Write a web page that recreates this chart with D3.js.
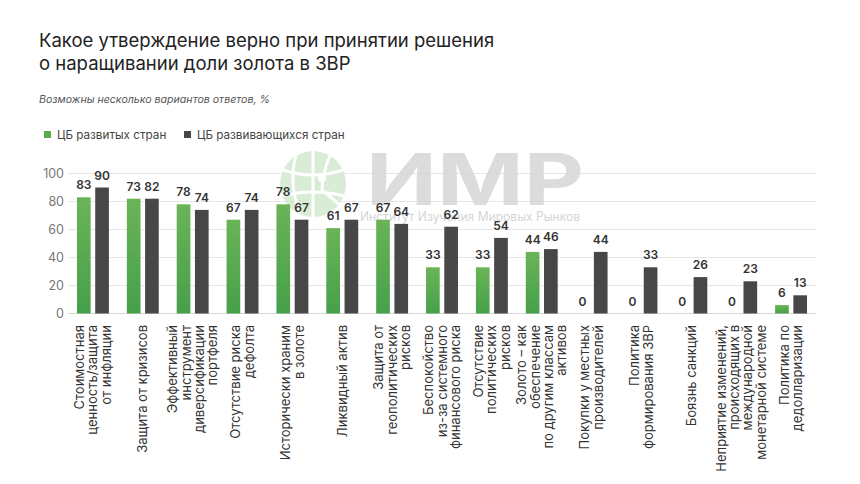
<!DOCTYPE html>
<html><head><meta charset="utf-8">
<script src="https://cdn.jsdelivr.net/npm/d3@7"></script>
<style>
body{margin:0;background:#fff;}
svg{display:block;font-family:Inter,"Noto Sans",sans-serif;}
</style></head>
<body><svg id="c" width="860" height="484"></svg>
<script>
// ---- data ----
const categories = [
  ["Стоимостная","ценность/защита","от инфляции"],
  ["Защита от кризисов"],
  ["Эффективный","инструмент","диверсификации","портфеля"],
  ["Отсутствие риска","дефолта"],
  ["Исторически храним","в золоте"],
  ["Ликвидный актив"],
  ["Защита от","геополитических","рисков"],
  ["Беспокойство","из-за системного","финансового риска"],
  ["Отсутствие","политических","рисков"],
  ["Золото – как","обеспечение","по другим классам","активов"],
  ["Покупки у местных","производителей"],
  ["Политика","формирования ЗВР"],
  ["Боязнь санкций"],
  ["Неприятие изменений,","происходящих в","международной","монетарной системе"],
  ["Политика по","дедолларизации"]
];
const seriesNames = ["ЦБ развитых стран","ЦБ развивающихся стран"];
// bar heights as drawn in the picture
const developed  = [83,82,78,67,78,61,67,33,33,44,0,0,0,0,6];
const developing = [90,82,74,74,67,67,64,62,54,46,44,33,26,23,13];
// value labels as printed in the picture
const developedLabels  = [83,73,78,67,78,61,67,33,33,44,0,0,0,0,6];
const developingLabels = [90,82,74,74,67,67,64,62,54,46,44,33,26,23,13];
const yTicks = [0,20,40,60,80,100];

const svg = d3.select("#c");
const colors = ["url(#gGreen)","#474747"];
const defs = svg.append("defs");
const gr = defs.append("linearGradient").attr("id","gGreen").attr("x1",0).attr("y1",0).attr("x2",0).attr("y2",1);
gr.append("stop").attr("offset","0%").attr("stop-color","#6ab457");
gr.append("stop").attr("offset","100%").attr("stop-color","#46a04a");

// title
svg.append("text").attr("x",39).attr("y",47).attr("font-size",18.5).attr("fill","#222")
  .text("Какое утверждение верно при принятии решения");
svg.append("text").attr("x",39).attr("y",69.5).attr("font-size",18.5).attr("fill","#222")
  .text("о наращивании доли золота в ЗВР");
svg.append("text").attr("x",39).attr("y",103).attr("font-size",10.6).attr("font-style","italic").attr("fill","#555")
  .text("Возможны несколько вариантов ответов, %");

// legend
const leg = [{x:44,t:seriesNames[0],c:"#5aaa50"},{x:184,t:seriesNames[1],c:"#474747"}];
leg.forEach(l=>{
  svg.append("rect").attr("x",l.x).attr("y",131).attr("width",7).attr("height",7).attr("fill",l.c);
  svg.append("text").attr("x",l.x+13).attr("y",138.5).attr("font-size",11.7).attr("fill","#444").text(l.t);
});

// scales
const x0 = d3.scaleBand().domain(d3.range(categories.length)).range([68,816]).paddingInner(0.36).paddingOuter(0.18);
const x1 = d3.scaleBand().domain([0,1]).range([0,x0.bandwidth()]).paddingInner(0.25);
const y = d3.scaleLinear().domain([0,100]).range([313.5,173.5]);

// grid
svg.append("g").selectAll("line").data(yTicks).join("line")
  .attr("x1",68).attr("x2",816).attr("y1",d=>y(d)).attr("y2",d=>y(d))
  .attr("stroke",d=>d===0?"#d6d6d6":"#e6e6e6").attr("stroke-width",1.2);
svg.append("g").selectAll("text").data(yTicks).join("text")
  .attr("x",64).attr("y",d=>y(d)+4.5).attr("text-anchor","end").attr("font-size",12.5)
  .attr("fill","#777").text(d=>d);

// watermark
const wm = svg.append("g").attr("opacity",0.85);
wm.append("circle").attr("cx",313).attr("cy",184).attr("r",33).attr("fill","#d3ead0");
wm.append("path").attr("d","M313,151 L313,217 M283,170 Q313,180 343,170 M282,196 Q313,188 344,196 M296,155 Q288,184 300,213 M330,155 Q322,175 322,190 L340,205")
  .attr("fill","none").attr("stroke","#fff").attr("stroke-width",3);
wm.append("circle").attr("cx",322).attr("cy",178).attr("r",4).attr("fill","#fff");
wm.append("text").attr("x",366).attr("y",205).attr("font-size",72).attr("font-weight",700)
  .attr("fill","#d6d6d6").attr("textLength",218).attr("lengthAdjust","spacingAndGlyphs").text("ИМР");
wm.append("text").attr("x",360).attr("y",221).attr("font-size",12.5)
  .attr("fill","#cfcfcf").attr("textLength",220).attr("lengthAdjust","spacingAndGlyphs").text("Институт Изучения Мировых Рынков");

// bars
const rows = categories.map((c,i)=>[
  {s:0,v:developed[i],l:developedLabels[i]},
  {s:1,v:developing[i],l:developingLabels[i]}
]);
const g = svg.append("g").selectAll("g").data(rows).join("g")
  .attr("transform",(d,i)=>`translate(${x0(i)},0)`);
g.selectAll("rect").data(d=>d).join("rect")
  .attr("x",d=>x1(d.s)).attr("width",x1.bandwidth())
  .attr("y",d=>y(d.v)).attr("height",d=>y(0)-y(d.v))
  .attr("fill",d=>colors[d.s]);
g.selectAll("text").data(d=>d).join("text")
  .attr("x",d=>x1(d.s)+x1.bandwidth()/2).attr("y",d=>y(d.v)-8)
  .attr("text-anchor","middle").attr("font-size",12).attr("font-weight",600).attr("fill","#333")
  .text(d=>d.l);

// x labels
const lh = 13.3;
const xl = svg.append("g").selectAll("text").data(categories).join("text")
  .attr("transform",(d,i)=>`translate(${x0(i)+x0.bandwidth()/2},325) rotate(-90)`)
  .attr("text-anchor","end").attr("font-size",13).attr("fill","#333");
xl.each(function(lines){
  const t = d3.select(this);
  lines.forEach((ln,j)=>{
    t.append("tspan").attr("x",0).attr("y",(j-(lines.length-1)/2)*lh+4.5).text(ln);
  });
});
</script></body></html>
